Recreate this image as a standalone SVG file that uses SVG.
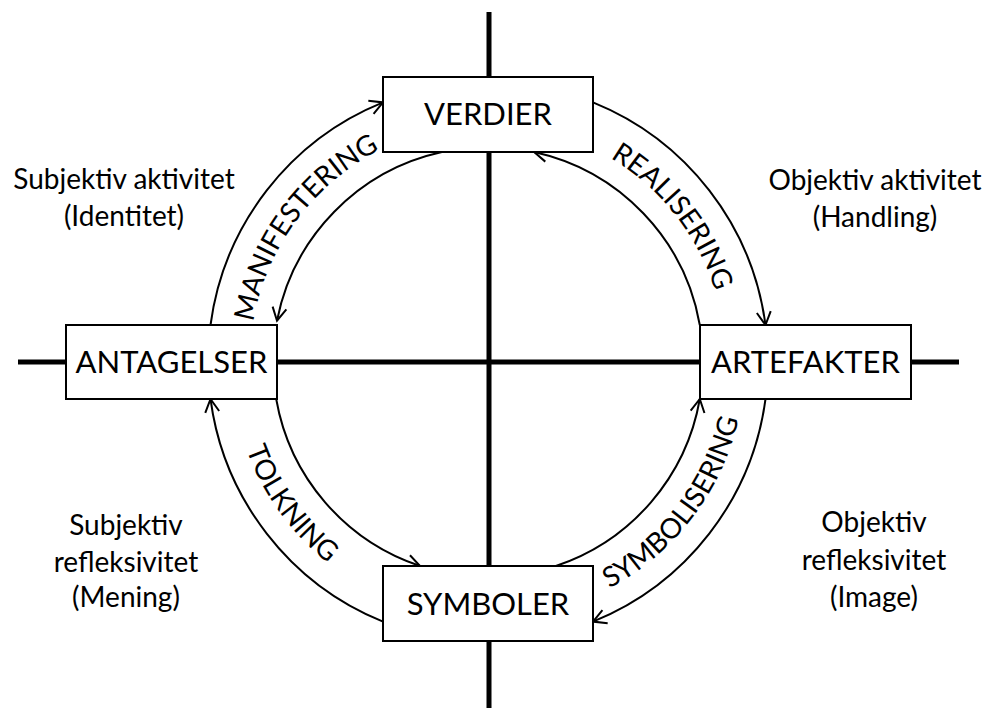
<svg xmlns="http://www.w3.org/2000/svg" width="984" height="708" viewBox="0 0 984 708">
<defs>
<style>
.axis{stroke:#000;stroke-width:5;fill:none}
.box{fill:#fff;stroke:#000;stroke-width:2}
.lbl{font-family:Lato,"Liberation Sans",sans-serif;font-size:31px;fill:#000;text-anchor:middle}
.side{font-family:Lato,"Liberation Sans",sans-serif;font-size:28px;fill:#000;text-anchor:middle}
.curve{font-family:Lato,"Liberation Sans",sans-serif;font-size:28px;fill:#000;text-anchor:middle}
.arc{stroke:#000;stroke-width:2;fill:none;marker-end:url(#arr)}
</style>
<marker id="arr" markerUnits="userSpaceOnUse" markerWidth="30" markerHeight="30" refX="0" refY="0" viewBox="-15 -15 30 30" orient="auto" overflow="visible">
<path d="M-13,-7 L0,0 L-13,7" fill="none" stroke="#000" stroke-width="2"/>
</marker>
<path id="pManif" d="M252.7,398 A238,238 0 0 1 452,126.7"/>
<path id="pReal" d="M516.2,125.7 A238,238 0 0 1 724.3,390.2"/>
<path id="pTolk" d="M234.4,320.5 A257,257 0 0 0 446.5,615.6"/>
<path id="pSymb" d="M522.4,616.7 A257,257 0 0 0 742.7,327.6"/>
</defs>
<rect width="984" height="708" fill="#fff"/>
<g id="axes">
<line class="axis" x1="489" y1="12" x2="489" y2="708"/>
<line class="axis" x1="18" y1="362" x2="959" y2="362"/>
</g>
<g id="connectors">
<path class="arc" d="M210.5,325 A280,280 0 0 1 383,102.4"/>
<path class="arc" d="M441.9,152 A215,215 0 0 0 277,320.7"/>
<path class="arc" d="M593,102.4 A280,280 0 0 1 765.5,325"/>
<path class="arc" d="M699.8,325 A215,215 0 0 0 534.1,152"/>
<path class="arc" d="M765.5,399 A280,280 0 0 1 593,621.6"/>
<path class="arc" d="M555.9,566 A215,215 0 0 0 699.8,399"/>
<path class="arc" d="M383,621.6 A280,280 0 0 1 210.5,399"/>
<path class="arc" d="M276.2,399 A215,215 0 0 0 420.1,566"/>
<text class="curve"><textPath href="#pManif" startOffset="50%">MANIFESTERING</textPath></text>
<text class="curve"><textPath href="#pReal" startOffset="50%">REALISERING</textPath></text>
<text class="curve"><textPath href="#pTolk" startOffset="50%">TOLKNING</textPath></text>
<text class="curve"><textPath href="#pSymb" startOffset="50%">SYMBOLISERING</textPath></text>
</g>
<g id="verdier">
<rect class="box" x="383" y="77" width="210" height="75"/>
<text class="lbl" x="488" y="125">VERDIER</text>
</g>
<g id="antagelser">
<rect class="box" x="66" y="325" width="211" height="74"/>
<text class="lbl" x="171.5" y="373">ANTAGELSER</text>
</g>
<g id="artefakter">
<rect class="box" x="700" y="325" width="211" height="74"/>
<text class="lbl" x="805.5" y="373">ARTEFAKTER</text>
</g>
<g id="symboler">
<rect class="box" x="383" y="566" width="210" height="75"/>
<text class="lbl" x="488" y="614.5">SYMBOLER</text>
</g>
<g id="subjektiv-aktivitet">
<text class="side" x="124" y="189">Subjektiv aktivitet</text>
<text class="side" x="124" y="226">(Identitet)</text>
</g>
<g id="objektiv-aktivitet">
<text class="side" x="875" y="190">Objektiv aktivitet</text>
<text class="side" x="875" y="227">(Handling)</text>
</g>
<g id="subjektiv-refleksivitet">
<text class="side" x="126" y="535">Subjektiv</text>
<text class="side" x="126" y="571.5">refleksivitet</text>
<text class="side" x="126" y="607">(Mening)</text>
</g>
<g id="objektiv-refleksivitet">
<text class="side" x="874" y="532">Objektiv</text>
<text class="side" x="874" y="570">refleksivitet</text>
<text class="side" x="874" y="606.5">(Image)</text>
</g>
</svg>
